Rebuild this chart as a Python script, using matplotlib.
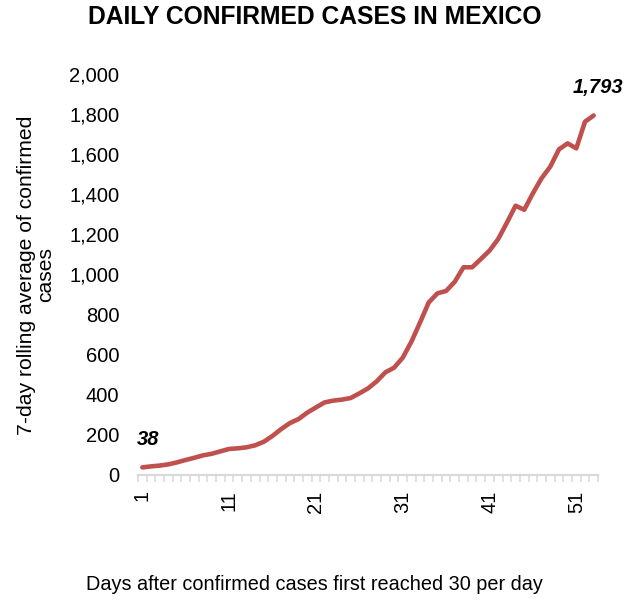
import matplotlib
matplotlib.use("Agg")
import matplotlib.pyplot as plt
from matplotlib.ticker import FuncFormatter, FixedLocator

plt.rcParams["font.family"] = ["Liberation Sans", "DejaVu Sans"]

# 7-day rolling average of daily confirmed cases, day 1 = first day at 30+ cases
days = list(range(1, 54))
cases = [38, 43, 47, 53, 63, 75, 86, 98, 106, 118,
         130, 133, 138, 148, 166, 195, 229, 259, 279, 311,
         337, 362, 371, 376, 384, 407, 432, 467, 512, 535,
         585, 665, 761, 861, 906, 918, 964, 1036, 1036, 1077,
         1119, 1177, 1258, 1343, 1323, 1405, 1480, 1538, 1624, 1654,
         1629, 1762, 1793]
x_tick_days = [1, 11, 21, 31, 41, 51]
y_ticks = list(range(0, 2001, 200))

title = "DAILY CONFIRMED CASES IN MEXICO"
x_label = "Days after confirmed cases first reached 30 per day"
y_label = "7-day rolling average of confirmed\ncases"

line_color = "#C0504D"
axis_grey = "#D9D9D9"

fig = plt.figure(figsize=(6.29, 6.0), dpi=100)
ax = fig.add_axes([138 / 629, 1 - 475 / 600, (598 - 138) / 629, (475 - 74) / 600])

ax.plot(days, cases, color=line_color, lw=3.3, solid_capstyle="round",
        solid_joinstyle="round", zorder=3)

ax.set_xlim(0.5, len(days) + 0.5)
ax.set_ylim(0, 2000)

# y axis: labels only, no line or ticks
ax.set_yticks(y_ticks)
ax.yaxis.set_major_formatter(FuncFormatter(lambda v, _: f"{int(v):,}"))
ax.tick_params(axis="y", length=0, pad=13.5, labelsize=14.5, labelcolor="#000000")

# x axis: grey baseline with small ticks between categories
ax.xaxis.set_major_locator(FixedLocator(x_tick_days))
ax.xaxis.set_minor_locator(FixedLocator([d - 0.5 for d in days] + [days[-1] + 0.5]))
ax.tick_params(axis="x", which="major", length=0, pad=11, labelsize=14.5,
               labelrotation=90)
ax.tick_params(axis="x", which="minor", length=5, width=1.2, color=axis_grey)

for side in ("top", "right", "left"):
    ax.spines[side].set_visible(False)
ax.spines["bottom"].set_color(axis_grey)
ax.spines["bottom"].set_linewidth(1.5)

# value labels at the first and last points
ax.annotate(f"{cases[0]:,}", (days[0], cases[0]), xytext=(4.5, 20),
            textcoords="offset points", ha="center", va="center",
            fontsize=14.5, fontweight="bold", fontstyle="italic")
ax.annotate(f"{cases[-1]:,}", (days[-1], cases[-1]), xytext=(3, 20),
            textcoords="offset points", ha="center", va="center",
            fontsize=14.5, fontweight="bold", fontstyle="italic")

fig.text(0.5, 1 - 17 / 600, title, ha="center", va="center",
         fontsize=17.7, fontweight="bold")
fig.text(0.5, 1 - 585 / 600, x_label, ha="center", va="center", fontsize=14.3)
fig.text(36 / 629, 1 - 275 / 600, y_label, ha="center", va="center",
         fontsize=15.2, rotation=90, linespacing=0.95)

fig.savefig("out.png", dpi=100)
